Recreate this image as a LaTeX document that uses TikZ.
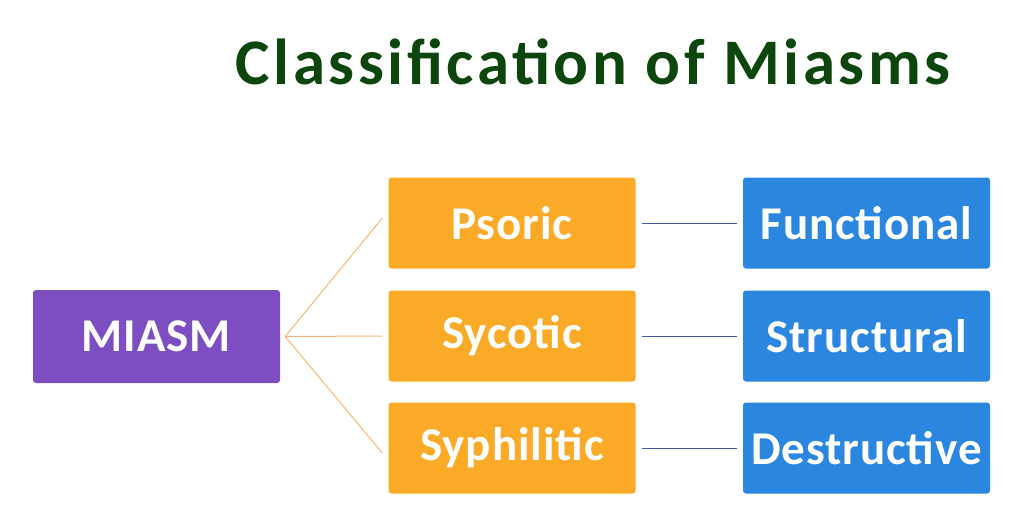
\documentclass[tikz,border=0pt]{standalone}
\usepackage{fontspec}
\setmainfont{Carlito}
\definecolor{miasmpurple}{RGB}{124,78,194}
\definecolor{miasmorange}{RGB}{250,170,38}
\definecolor{miasmblue}{RGB}{42,134,222}
\definecolor{titlegreen}{RGB}{12,70,12}
\definecolor{linkorange}{RGB}{244,182,110}
\definecolor{linkblue}{RGB}{60,90,160}
\begin{document}
\begin{tikzpicture}[x=1pt,y=-1pt,
	box/.style={rectangle, rounded corners=3pt, minimum width=247pt, minimum height=91pt,
		text=white, font=\fontsize{47}{52}\selectfont\bfseries\addfontfeatures{LetterSpace=2}, inner sep=0pt},
	mainbox/.style={box, fill=miasmpurple, minimum height=93pt},
	typebox/.style={box, fill=miasmorange},
	natbox/.style={box, fill=miasmblue}]
	\useasboundingbox (0,0) rectangle (1024,509);
	
	\node[text=titlegreen, font=\fontsize{65}{72}\selectfont\bfseries\addfontfeatures{LetterSpace=5.5}] (title) at (593,62) {Classification of Miasms};
	
	\node[mainbox] (miasm) at (156.5,336.5) {MIASM};
	
	\node[typebox] (psoric) at (512,223) {Psoric};
	\node[typebox] (sycotic) at (512,336) {Sycotic};
	\node[typebox] (syphilitic) at (512,448) {Syphilitic};
	
	\node[natbox] (functional) at (866.5,223) {Functional};
	\node[natbox] (structural) at (866.5,336) {Structural};
	\node[natbox] (destructive) at (866.5,448) {Destructive};
	
	\coordinate (fork) at ([xshift=5pt]miasm.east);
	\draw[linkorange, line width=1pt] (fork) -- ([xshift=-6pt,yshift=5pt]psoric.west);
	\draw[linkorange, line width=1pt] (fork) -- ([xshift=-6pt]sycotic.west);
	\draw[linkorange, line width=1pt] (fork) -- ([xshift=-6pt,yshift=-5pt]syphilitic.west);
	
	\draw[linkblue, line width=1pt] ([xshift=6pt]psoric.east) -- ([xshift=-6pt]functional.west);
	\draw[linkblue, line width=1pt] ([xshift=6pt]sycotic.east) -- ([xshift=-6pt]structural.west);
	\draw[linkblue, line width=1pt] ([xshift=6pt]syphilitic.east) -- ([xshift=-6pt]destructive.west);
\end{tikzpicture}
\end{document}
